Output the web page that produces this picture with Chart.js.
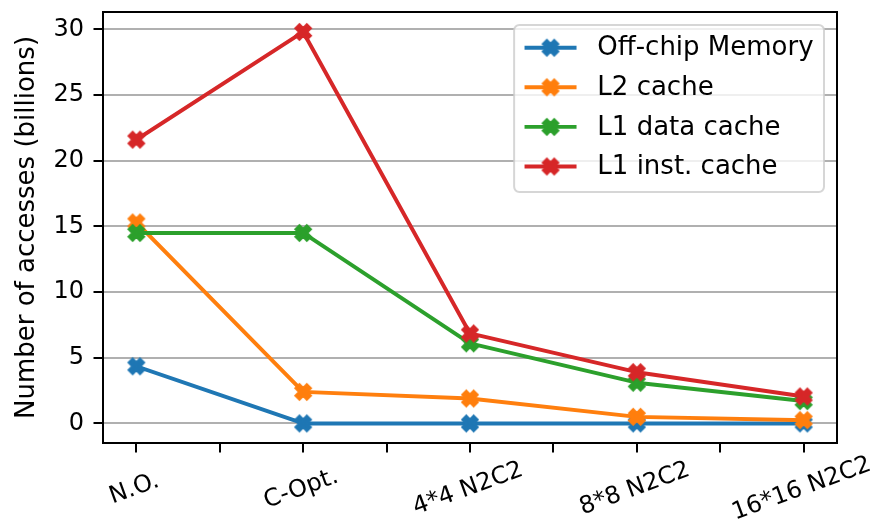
<!DOCTYPE html>
<html><head><meta charset="utf-8">
<script src="https://cdn.jsdelivr.net/npm/chart.js@4/dist/chart.umd.min.js"></script>
<style>html,body{margin:0;padding:0;background:#fff}#wrap{width:871px;height:523px}</style>
</head><body><div id="wrap"><canvas id="c" width="871" height="523"></canvas></div>
<script>
// ---- data ----
const categories = ['N.O.', 'C-Opt.', '4*4 N2C2', '8*8 N2C2', '16*16 N2C2'];
const seriesNames = ['Off-chip Memory', 'L2 cache', 'L1 data cache', 'L1 inst. cache'];
const offChip = [4.35, 0, 0, 0, 0];
const l2Cache = [15.3, 2.4, 1.9, 0.5, 0.25];
const l1Data = [14.5, 14.5, 6.1, 3.1, 1.7];
const l1Inst = [21.6, 29.8, 6.85, 3.9, 2.05];
const yTickValues = [0, 5, 10, 15, 20, 25, 30];
const yTitle = 'Number of accesses (billions)';

// ---- style ----
const colors = ['#1f77b4', '#ff7f0e', '#2ca02c', '#d62728'];
const FONT = '"DejaVu Sans", sans-serif';
const FS = 26;        // legend / axis title
const TFS = 24;       // tick labels
const TICKLEN = 9.5, TICKPAD = 9.5;
const LINEW = 3.9, MS = 15.6, MEW = 2.6;
const ROT = 20;

function makeMarker(color) {
  const size = 26;
  const cv = document.createElement('canvas');
  cv.width = size; cv.height = size;
  const c = cv.getContext('2d');
  const pts = [[-1,-3],[1,-3],[1,-1],[3,-1],[3,1],[1,1],[1,3],[-1,3],[-1,1],[-3,1],[-3,-1],[-1,-1]];
  const a = Math.PI / 4, ca = Math.cos(a), sa = Math.sin(a);
  c.translate(size / 2, size / 2);
  c.beginPath();
  pts.forEach((p, i) => {
    const x = p[0] / 6 * MS, y = p[1] / 6 * MS;
    const rx = x * ca - y * sa, ry = x * sa + y * ca;
    if (i === 0) c.moveTo(rx, ry); else c.lineTo(rx, ry);
  });
  c.closePath();
  c.fillStyle = color; c.fill();
  c.lineWidth = MEW; c.lineJoin = 'miter'; c.strokeStyle = color; c.stroke();
  return cv;
}
const markers = colors.map(makeMarker);
const seriesData = [offChip, l2Cache, l1Data, l1Inst];

const datasets = seriesData.map((vals, i) => ({
  label: seriesNames[i],
  data: vals.map((v, j) => ({ x: j, y: v })),
  borderColor: colors[i],
  backgroundColor: colors[i],
  borderWidth: LINEW,
  borderJoinStyle: 'round',
  borderCapStyle: 'square',
  pointStyle: markers[i],
  pointRadius: 8,
  pointHoverRadius: 8,
  tension: 0,
  clip: false,
  order: seriesData.length - 1 - i
}));

const framePlugin = {
  id: 'frame',
  afterDatasetsDraw(chart) {
    const ctx = chart.ctx, a = chart.chartArea;
    ctx.save();
    ctx.strokeStyle = '#000'; ctx.lineWidth = 2;
    ctx.strokeRect(a.left, a.top, a.right - a.left, a.bottom - a.top);
    ctx.font = FS + 'px ' + FONT;
    const maxW = Math.max(...seriesNames.map(s => ctx.measureText(s).width));
    const bp = 0.4 * FS, hl = 2 * FS, htp = 0.8 * FS;
    const w = bp + hl + htp + maxW + bp;
    const rowH = 39.6, h = 167;
    const right = a.right - 0.5 * FS, top = a.top + 0.5 * FS;
    const left = right - w;
    const r = 0.2 * FS;
    ctx.beginPath();
    ctx.roundRect(left, top, w, h, r);
    ctx.fillStyle = 'rgba(255,255,255,0.8)'; ctx.fill();
    ctx.strokeStyle = 'rgba(204,204,204,0.8)'; ctx.lineWidth = 2; ctx.stroke();
    seriesNames.forEach((name, i) => {
      const cy = top + 22.7 + i * rowH;
      const x0 = left + bp;
      ctx.beginPath(); ctx.moveTo(x0, cy); ctx.lineTo(x0 + hl, cy);
      ctx.strokeStyle = colors[i]; ctx.lineWidth = LINEW; ctx.lineCap = 'butt'; ctx.stroke();
      ctx.drawImage(markers[i], x0 + hl / 2 - markers[i].width / 2, cy - markers[i].height / 2);
      ctx.fillStyle = '#000'; ctx.textAlign = 'left'; ctx.textBaseline = 'middle';
      ctx.fillText(name, x0 + hl + htp, cy + 1);
    });
    ctx.restore();
  },
  afterDraw(chart) {
    const ctx = chart.ctx, xs = chart.scales.x;
    const cy = chart.chartArea.bottom + 46;
    const rot = ROT * Math.PI / 180;
    ctx.save();
    ctx.font = TFS + 'px ' + FONT; ctx.fillStyle = '#000';
    categories.forEach((lab, i) => {
      const cx = xs.getPixelForValue(i) - 2;
      ctx.save(); ctx.translate(cx, cy); ctx.rotate(-rot);
      ctx.textAlign = 'center'; ctx.textBaseline = 'middle';
      ctx.fillText(lab, 0, 0); ctx.restore();
    });
    ctx.restore();
  }
};

new Chart(document.getElementById('c'), {
  type: 'line',
  data: { datasets },
  options: {
    responsive: false,
    animation: false,
    devicePixelRatio: 1,
    events: [],
    layout: { padding: { left: 0, top: 12, right: 34, bottom: 0 } },
    plugins: { legend: { display: false }, tooltip: { enabled: false } },
    scales: {
      x: {
        type: 'linear', min: -0.2, max: 4.2,
        ticks: { display: false, stepSize: 0.5, includeBounds: false },
        grid: { drawOnChartArea: false, drawTicks: true, tickLength: TICKLEN, color: '#000', lineWidth: 2 },
        border: { display: false },
        afterFit(s) { s.height = 80; s.paddingLeft = 0; s.paddingRight = 0; }
      },
      y: {
        type: 'linear', min: -1.49, max: 31.32,
        afterBuildTicks(s) { s.ticks = yTickValues.map(v => ({ value: v })); },
        ticks: { font: { family: FONT, size: TFS }, color: '#000', padding: TICKPAD, includeBounds: false },
        grid: { color: '#b0b0b0', lineWidth: 2, drawTicks: true, tickLength: TICKLEN, tickColor: '#000', tickWidth: 2 },
        border: { display: false },
        title: { display: true, text: yTitle, color: '#000', font: { family: FONT, size: FS }, padding: { top: 11.4, bottom: 0 } },
        afterFit(s) { s.width = 103; s.paddingTop = 0; s.paddingBottom = 0; }
      }
    }
  },
  plugins: [framePlugin]
});
</script>
</body></html>
